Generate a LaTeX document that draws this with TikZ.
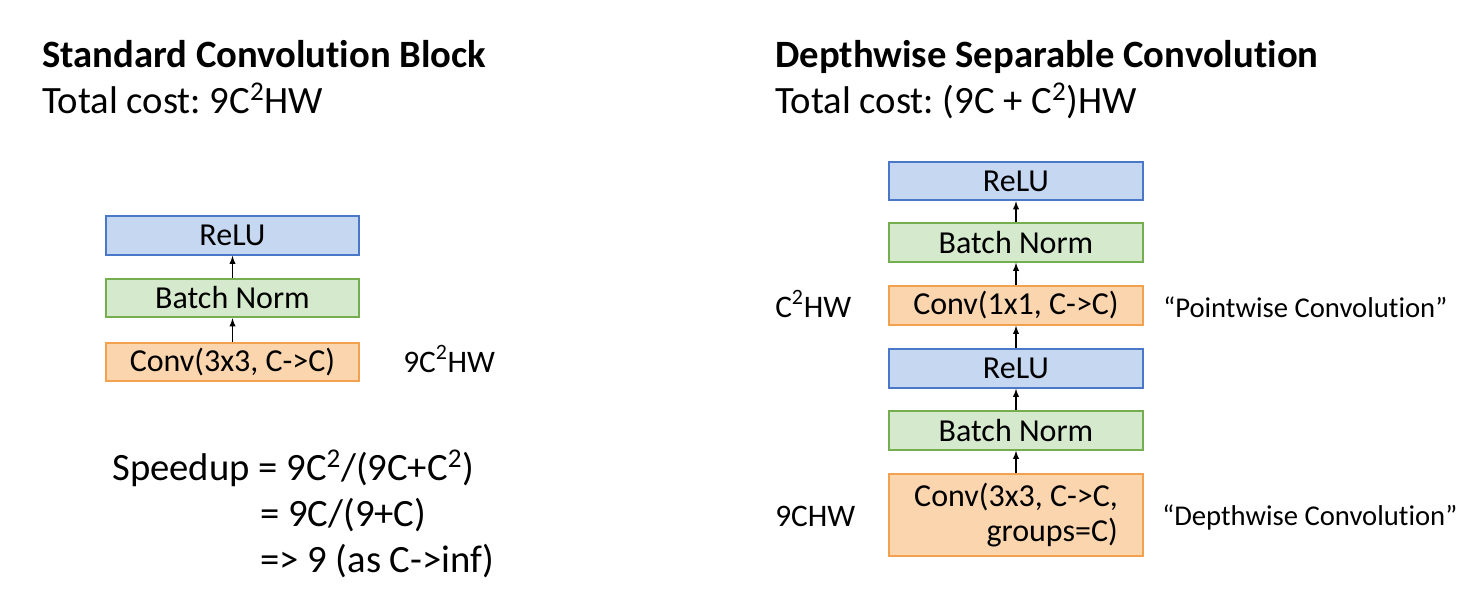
\documentclass[tikz,border=0pt]{standalone}
\usepackage{fontspec}
\setmainfont{Carlito}[Ligatures=NoCommon]
\usepackage{tikz}
\usetikzlibrary{arrows}
\frenchspacing
\newcommand{\sqr}{\textsuperscript{2}}

\begin{document}
\begin{tikzpicture}[x=0.75pt,y=0.75pt,yscale=-1,xscale=1,
        block/.style={draw, line width=1.4pt, minimum width=190pt, minimum height=29pt, inner sep=0pt, font=\fontsize{24}{26}\selectfont},
        relu/.style={block, draw={rgb, 255:red, 74; green, 120; blue, 200 }, fill={rgb, 255:red, 198; green, 215; blue, 242 }},
        bnorm/.style={block, draw={rgb, 255:red, 116; green, 174; blue, 80 }, fill={rgb, 255:red, 213; green, 233; blue, 205 }},
        conv/.style={block, draw={rgb, 255:red, 242; green, 162; blue, 78 }, fill={rgb, 255:red, 251; green, 213; blue, 174 }},
        flow/.style={-latex, line width=1.1pt},
        heading/.style={anchor=base west, inner sep=0pt, font=\fontsize{29}{34}\selectfont},
        cost/.style={anchor=base west, inner sep=0pt, font=\fontsize{23.5}{28}\selectfont},
        alias/.style={anchor=base west, inner sep=0pt, font=\fontsize{21.5}{26}\selectfont}]
        %set diagram size to the reference (1479 x 600)
        \path [fill=white] (0,0) rectangle (1479,600);

        %Shape: Rectangle [id:standard block]
        \node [relu] (reluA) at (232.5,235.5) {ReLU};
        %Shape: Rectangle
        \node [bnorm] (bnA) at (232.5,298) {Batch Norm};
        %Shape: Rectangle
        \node [conv] (convA) at (232.5,362) {Conv(3x3, C->C)};
        %Straight Lines
        \draw [flow] (convA.north) -- (bnA.south);
        \draw [flow] (bnA.north) -- (reluA.south);

        %Shape: Rectangle [id:depthwise block]
        \node [relu] (reluC) at (1016,181) {ReLU};
        %Shape: Rectangle
        \node [bnorm] (bnC) at (1016,242.5) {Batch Norm};
        %Shape: Rectangle
        \node [conv] (pointC) at (1016,305.5) {Conv(1x1, C->C)};
        %Shape: Rectangle
        \node [relu] (reluB) at (1016,368.5) {ReLU};
        %Shape: Rectangle
        \node [bnorm] (bnB) at (1016,430.5) {Batch Norm};
        %Shape: Rectangle
        \node [conv, minimum height=61.5pt, align=right] (depthB) at (1016,515) {Conv(3x3, C->C,\\groups=C)};
        %Straight Lines
        \draw [flow] (depthB.north) -- (bnB.south);
        \draw [flow] (bnB.north) -- (reluB.south);
        \draw [flow] (reluB.north) -- (pointC.south);
        \draw [flow] (pointC.north) -- (bnC.south);
        \draw [flow] (bnC.north) -- (reluC.south);

        % Text Node
        \node [heading] (titleA) at (42,67) {\textbf{Standard Convolution Block}};
        % Text Node
        \node [heading] (totalA) at (42,113) {Total cost: 9C\sqr HW};
        % Text Node
        \node [cost] (costA) at (403,372) {9C\sqr HW};
        % Text Node
        \node [heading] (speedA) at (112,480) {Speedup = 9C\sqr/(9C+C\sqr)};
        % Text Node
        \node [heading] (speedB) at (260,526) {= 9C/(9+C)};
        % Text Node
        \node [heading] (speedC) at (260,572) {=> 9 (as C->inf)};

        % Text Node
        \node [heading] (titleB) at (775,67) {\textbf{Depthwise Separable Convolution}};
        % Text Node
        \node [heading] (totalB) at (775,113) {Total cost: (9C + C\sqr)HW};
        % Text Node
        \node [cost] (costC) at (775,317) {C\sqr HW};
        % Text Node
        \node [cost] (costB) at (775,526) {9CHW};
        % Text Node
        \node [alias] (aliasC) at (1163,317) {“Pointwise Convolution”};
        % Text Node
        \node [alias] (aliasB) at (1162,525) {“Depthwise Convolution”};

\end{tikzpicture}
\end{document}
